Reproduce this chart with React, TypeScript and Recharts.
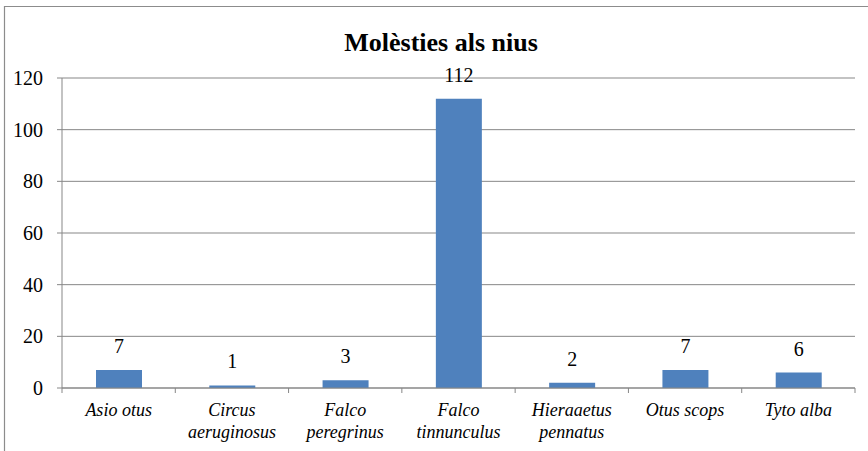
import { BarChart, Bar, XAxis, YAxis, CartesianGrid, LabelList } from "recharts";

const SERIF = '"Liberation Serif", "Times New Roman", serif';
const GRAY = "#878787";

const species = [
  "Asio otus", "Circus aeruginosus", "Falco peregrinus", "Falco tinnunculus",
  "Hieraaetus pennatus", "Otus scops", "Tyto alba",
];
// how each category label breaks onto lines under the axis
const tickLines = [
  ["Asio otus"], ["Circus", "aeruginosus"], ["Falco", "peregrinus"], ["Falco", "tinnunculus"],
  ["Hieraaetus", "pennatus"], ["Otus scops"], ["Tyto alba"],
];
const molesties = [7, 1, 3, 112, 2, 7, 6];
const yTicks = [0, 20, 40, 60, 80, 100, 120];

const data = species.map((name, i) => ({ name, value: molesties[i] }));

function CatTick(props: any) {
  const { x, y, index, width } = props;
  const band = (width || 793) / species.length;
  const axisY = y - 6;
  const lines = tickLines[index] ?? [species[index]];
  return (
    <g>
      <line x1={x - band / 2} x2={x - band / 2} y1={axisY} y2={axisY + 5} stroke={GRAY} />
      {index === species.length - 1 && (
        <line x1={x + band / 2} x2={x + band / 2} y1={axisY} y2={axisY + 5} stroke={GRAY} />
      )}
      {lines.map((t, i) => (
        <text key={i} x={x} y={axisY + 28 + i * 21.5} textAnchor="middle"
          style={{ fontFamily: SERIF, fontStyle: "italic", fontSize: 18 }} fill="#000">{t}</text>
      ))}
    </g>
  );
}

function YTick(props: any) {
  const { x, y, payload } = props;
  return (
    <text x={x} y={y + 7} textAnchor="end" fill="#000" style={{ fontFamily: SERIF, fontSize: 20 }}>
      {payload.value}
    </text>
  );
}

function ValueLabel(props: any) {
  const { x, y, width, value } = props;
  return (
    <text x={x + width / 2} y={y - 17} textAnchor="middle" fill="#000" style={{ fontFamily: SERIF, fontSize: 20 }}>
      {value}
    </text>
  );
}

export default function App() {
  return (
    <div style={{ position: "absolute", left: 0, top: 0, width: 868, height: 451, background: "#fff", overflow: "hidden", fontFamily: SERIF }}>
      <svg width={868} height={451} style={{ position: "absolute", left: 0, top: 0 }}>
        <path d="M4.5 460 V6.5 H880" fill="none" stroke="#8c8c8c" strokeWidth={1.2} />
        <text x={441} y={50.5} textAnchor="middle" fill="#000"
          style={{ fontFamily: SERIF, fontWeight: "bold", fontSize: 26 }}>
          Molèsties als nius
        </text>
      </svg>
      <div style={{ position: "absolute", left: 0, top: 0 }}>
        <BarChart width={868} height={451} data={data} margin={{ top: 78, right: 13, bottom: 0, left: 0 }}>
          <CartesianGrid vertical={false} stroke={GRAY} strokeDasharray="" />
          <XAxis dataKey="name" interval={0} axisLine={{ stroke: GRAY }} tickLine={false}
            tickSize={6} tickMargin={0} height={63} tick={<CatTick />} />
          <YAxis domain={[0, 120]} ticks={yTicks} width={62} interval={0}
            axisLine={{ stroke: GRAY }} tickLine={{ stroke: GRAY }} tickSize={5} tickMargin={14}
            tick={<YTick />} />
          <Bar dataKey="value" fill="#4F81BD" barSize={46} isAnimationActive={false}>
            <LabelList dataKey="value" content={<ValueLabel />} />
          </Bar>
        </BarChart>
      </div>
    </div>
  );
}
